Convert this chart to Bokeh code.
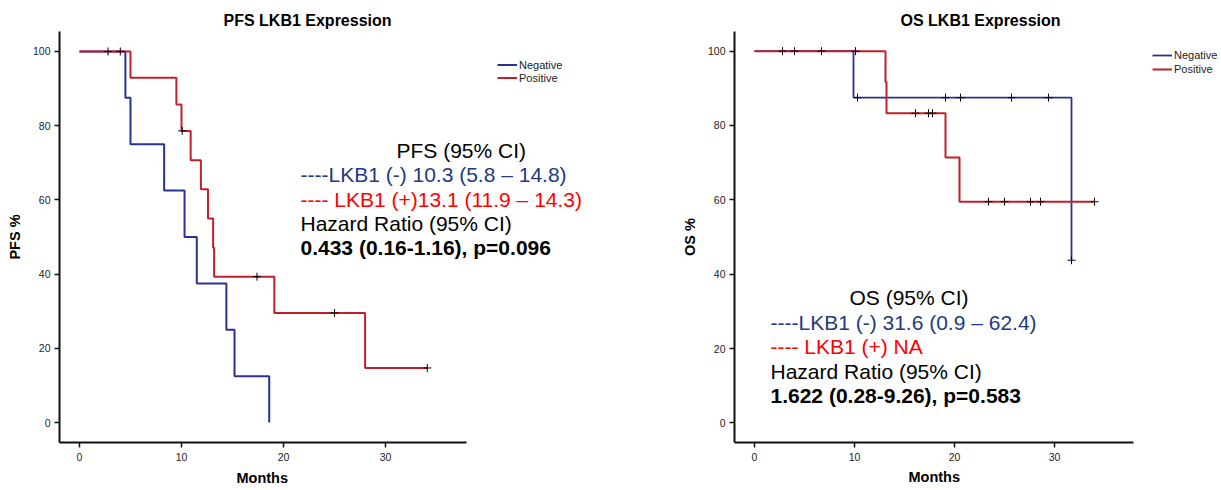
from bokeh.plotting import figure
from bokeh.layouts import row
from bokeh.models import Range1d, Label, Legend, LegendItem, FixedTicker, Title
from bokeh.embed import file_html
from bokeh.resources import INLINE

# ---------------- data ----------------
# PFS, LKB1 expression
pfs_neg_t = [0, 4.5, 5.0, 8.3, 10.3, 11.5, 14.4, 15.2, 18.6]
pfs_neg_s = [100, 87.5, 75.0, 62.5, 50.0, 37.5, 25.0, 12.5, 0.0]
pfs_pos_t = [0, 5.0, 9.5, 10.0, 10.9, 11.9, 12.6, 13.1, 13.2, 19.1, 28.0, 34.1]
pfs_pos_s = [100, 92.9, 85.7, 78.6, 70.7, 62.9, 55.0, 47.1, 39.3, 29.5, 14.7, 14.7]
pfs_cens_t = [2.8, 4.0, 10.07, 17.4, 25.0, 34.1]
pfs_cens_s = [100, 100, 78.6, 39.3, 29.5, 14.7]

# OS, LKB1 expression
os_neg_t = [0, 9.9, 31.7]
os_neg_s = [100, 87.5, 43.75]
os_pos_t = [0, 13.1, 13.2, 19.1, 20.5, 34.0]
os_pos_s = [100, 91.7, 83.3, 71.4, 59.5, 59.5]
os_neg_cens_t = [10.3, 19.1, 20.6, 25.7, 29.4, 31.7]
os_neg_cens_s = [87.5, 87.5, 87.5, 87.5, 87.5, 43.75]
os_pos_cens_t = [2.8, 4.0, 6.7, 10.1, 16.1, 17.4, 17.8, 23.4, 25.0, 27.6, 28.6, 34.0]
os_pos_cens_s = [100, 100, 100, 100, 83.3, 83.3, 83.3, 59.5, 59.5, 59.5, 59.5, 59.5]

x_ticks = [0, 10, 20, 30]
y_ticks = [0, 20, 40, 60, 80, 100]
series_names = ["Negative", "Positive"]
x_label = "Months"

pfs_lines = ["PFS (95% CI)", "----LKB1 (-) 10.3 (5.8 \u2013 14.8)",
             "---- LKB1 (+)13.1 (11.9 \u2013 14.3)", "Hazard Ratio (95% CI)",
             "0.433 (0.16-1.16), p=0.096"]
os_lines = ["OS (95% CI)", "----LKB1 (-) 31.6 (0.9 \u2013 62.4)",
            "---- LKB1 (+) NA", "Hazard Ratio (95% CI)",
            "1.622 (0.28-9.26), p=0.583"]

# ---------------- styling ----------------
FONT = "Liberation Sans"
BLUE = "#2a3192"
RED = "#c0202a"
TXT_BLUE = "#1f3a80"
TXT_RED = "#ff0000"
H = 490


def make_fig(title, ylabel, width, bl, br, bt, bb, xr, yr, xb, title_offset,
             title_standoff, xlab_offset, xlab_standoff):
    p = figure(width=width, height=H, x_range=Range1d(*xr), y_range=Range1d(*yr),
               output_backend="svg", toolbar_location=None,
               min_border_left=bl, min_border_right=br,
               min_border_top=bt, min_border_bottom=bb)
    p.outline_line_color = None
    p.grid.visible = False
    p.background_fill_color = "white"
    p.border_fill_color = "white"
    p.title.text = title
    p.title.align = "left"
    p.title.offset = title_offset
    p.title.standoff = title_standoff
    p.title.text_font = FONT
    p.title.text_font_size = "16px"
    p.title.text_font_style = "bold"
    p.title.text_color = "black"

    xa = p.xaxis[0]
    xa.ticker = FixedTicker(ticks=x_ticks)
    xa.bounds = xb
    xa.major_label_standoff = 5
    ya = p.yaxis[0]
    ya.ticker = FixedTicker(ticks=y_ticks)
    ya.bounds = yr
    ya.axis_label = ylabel
    ya.major_label_standoff = 4
    ya.axis_label_standoff = 7
    for a in (xa, ya):
        a.axis_line_width = 2
        a.axis_line_color = "#111111"
        a.major_tick_line_color = "#111111"
        a.major_tick_line_width = 1.5
        a.major_tick_in = 0
        a.major_tick_out = 5
        a.minor_tick_line_color = None
        a.major_label_text_font = FONT
        a.major_label_text_font_size = "10.5px"
        a.major_label_text_color = "#222222"
        a.axis_label_text_font = FONT
        a.axis_label_text_font_size = "14.5px"
        a.axis_label_text_font_style = "bold"
        a.axis_label_text_color = "black"

    # x-axis label: centred under the bounded part of the axis
    p.add_layout(Title(text=x_label, align="left", offset=xlab_offset,
                       standoff=xlab_standoff, text_font=FONT,
                       text_font_size="14.5px", text_font_style="bold",
                       text_color="black"), "below")
    return p


def add_text(p, lines, x_first, x_rest, y0, dy, frame_left, frame_bottom):
    colors = ["black", TXT_BLUE, TXT_RED, "black", "black"]
    for i, t in enumerate(lines):
        x = x_first if i == 0 else x_rest
        p.add_layout(Label(x=x - frame_left, y=frame_bottom - (y0 + dy * i),
                           x_units="screen", y_units="screen", text=t,
                           text_font=FONT, text_font_size="21px",
                           text_font_style="bold" if i == 4 else "normal",
                           text_color=colors[i], text_baseline="alphabetic",
                           text_align="left"))


def add_legend(p, renderers, vx, vy, lh, gw):
    items = [LegendItem(label=n, renderers=[r]) for n, r in zip(series_names, renderers)]
    lg = Legend(items=items, location=(vx, vy), padding=0, margin=0, spacing=0,
                label_height=lh, glyph_height=lh, glyph_width=gw, label_standoff=2,
                label_text_font=FONT, label_text_font_size="11px",
                label_text_color="#222222", border_line_color=None,
                background_fill_alpha=0)
    p.add_layout(lg)


# ---------------- left: PFS ----------------
# frame: page x 59..605, y 31..442  (10.2 px / month, 3.71 px / %)
p1 = make_fig("PFS LKB1 Expression", "PFS %", 610, 59, 5, 31, 48,
              (-1.96, 51.57), (-5.39, 105.39), (-1.96, 37.9), 164, 5, 177, 8)
r1 = p1.step(pfs_neg_t, pfs_neg_s, mode="after", line_color=BLUE, line_width=2)
r2 = p1.step(pfs_pos_t, pfs_pos_s, mode="after", line_color=RED, line_width=2)
p1.scatter(pfs_cens_t, pfs_cens_s, marker="cross", size=8, line_color="black", line_width=1)
add_text(p1, pfs_lines, 396, 300, 150, 24.25, 59, 442)
add_legend(p1, [r1, r2], 438, 358, 13, 20)

# ---------------- right: OS ----------------
# frame: page x 734..1219, y 27..445  (10 px / month, 3.78 px / %)
p2 = make_fig("OS LKB1 Expression", "OS %", 611, 124, 2, 27, 45,
              (-2.0, 46.5), (-5.29, 105.29), (-2.0, 37.9), 166, 6, 174, 6)
r3 = p2.step(os_neg_t, os_neg_s, mode="after", line_color=BLUE, line_width=1.8)
r4 = p2.step(os_pos_t, os_pos_s, mode="after", line_color=RED, line_width=2)
p2.scatter(os_neg_cens_t, os_neg_cens_s, marker="cross", size=8, line_color="black", line_width=1)
p2.scatter(os_pos_cens_t, os_pos_cens_s, marker="cross", size=8, line_color="black", line_width=1)
add_text(p2, os_lines, 849, 770, 300, 24.5, 734, 445)
add_legend(p2, [r3, r4], 418, 366, 14, 20)

layout = row(p1, p2)
open("out.html", "w").write(file_html(layout, INLINE))
